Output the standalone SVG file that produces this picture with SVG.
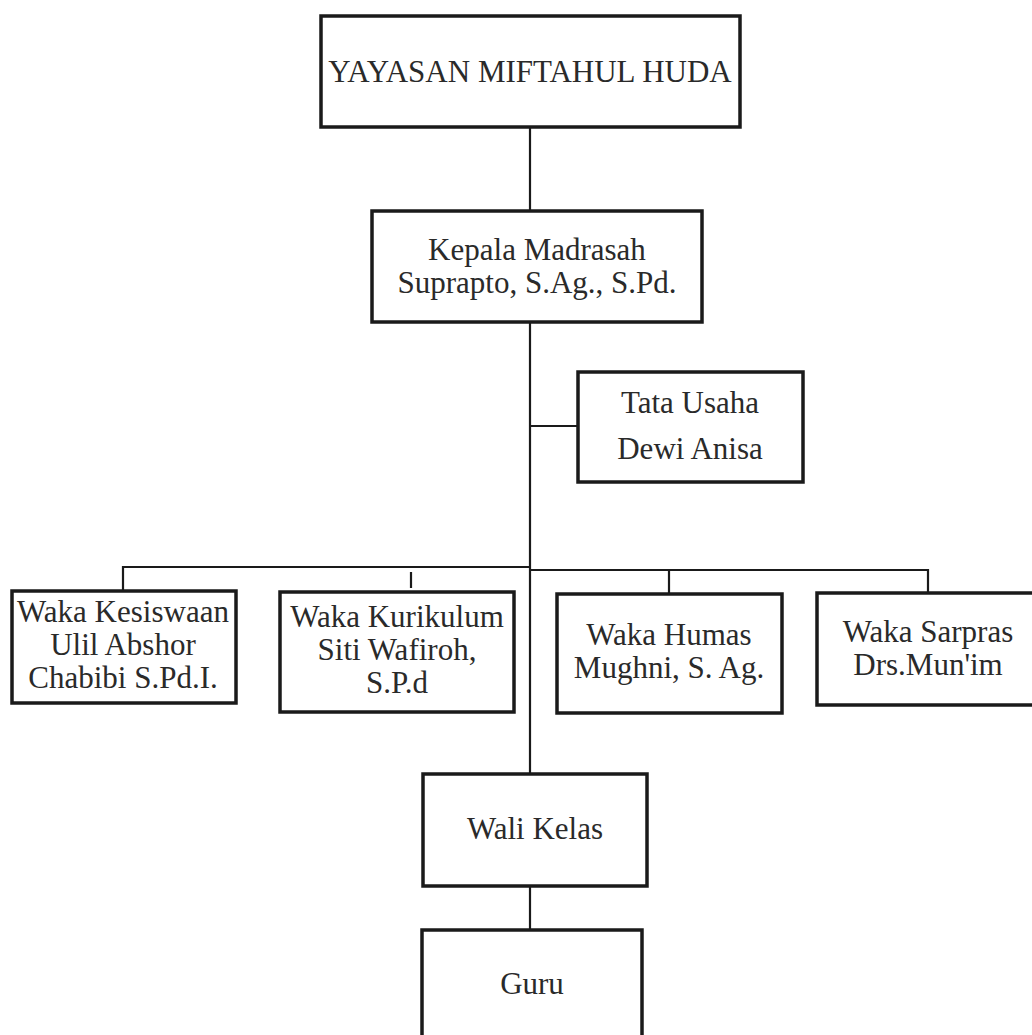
<svg xmlns="http://www.w3.org/2000/svg" width="1032" height="1035" viewBox="0 0 1032 1035">
<style>
.box{fill:#fff;stroke:#1a1a1a;stroke-width:3.5}
.lbl{font-family:"Liberation Serif","Times New Roman",serif;font-size:31px;fill:#2a2a2a;text-anchor:middle}
.con{fill:none;stroke:#1a1a1a;stroke-width:2.2}
</style>
<rect width="1032" height="1035" fill="#fff"/>
<g id="connectors">
<line class="con" x1="530" y1="127" x2="530" y2="211"/>
<line class="con" x1="530" y1="322" x2="530" y2="775"/>
<line class="con" x1="530" y1="426" x2="578" y2="426"/>
<polyline class="con" points="123,591 123,567 530,567"/>
<polyline class="con" points="530,570 928,570 928,593"/>
<line class="con" x1="669" y1="570" x2="669" y2="594"/>
<line class="con" x1="411" y1="572" x2="411" y2="588"/>
<line class="con" x1="530" y1="886" x2="530" y2="930"/>
</g>
<g id="yayasan">
<rect class="box" x="321" y="16" width="419" height="111"/>
<text class="lbl" x="530" y="82">YAYASAN MIFTAHUL HUDA</text>
</g>
<g id="kepala">
<rect class="box" x="372" y="211" width="330" height="111"/>
<text class="lbl" x="537" y="260">Kepala Madrasah</text>
<text class="lbl" x="537" y="293">Suprapto, S.Ag., S.Pd.</text>
</g>
<g id="tatausaha">
<rect class="box" x="578" y="372" width="225" height="110"/>
<text class="lbl" x="690" y="413">Tata Usaha</text>
<text class="lbl" x="690" y="459">Dewi Anisa</text>
</g>
<g id="kesiswaan">
<rect class="box" x="12" y="591" width="224" height="112"/>
<text class="lbl" x="123" y="622">Waka Kesiswaan</text>
<text class="lbl" x="123" y="655">Ulil Abshor</text>
<text class="lbl" x="123" y="688">Chabibi S.Pd.I.</text>
</g>
<g id="kurikulum">
<rect class="box" x="280" y="592" width="234" height="120"/>
<text class="lbl" x="397" y="627">Waka Kurikulum</text>
<text class="lbl" x="397" y="660">Siti Wafiroh,</text>
<text class="lbl" x="397" y="693">S.P.d</text>
</g>
<g id="humas">
<rect class="box" x="557" y="594" width="225" height="119"/>
<text class="lbl" x="669" y="645">Waka Humas</text>
<text class="lbl" x="669" y="678">Mughni, S. Ag.</text>
</g>
<g id="sarpras">
<rect class="box" x="817" y="593" width="224" height="112"/>
<text class="lbl" x="928" y="642">Waka Sarpras</text>
<text class="lbl" x="928" y="675">Drs.Mun'im</text>
</g>
<g id="walikelas">
<rect class="box" x="423" y="774" width="224" height="112"/>
<text class="lbl" x="535" y="839">Wali Kelas</text>
</g>
<g id="guru">
<rect class="box" x="422" y="930" width="220" height="120"/>
<text class="lbl" x="532" y="994">Guru</text>
</g>
</svg>
